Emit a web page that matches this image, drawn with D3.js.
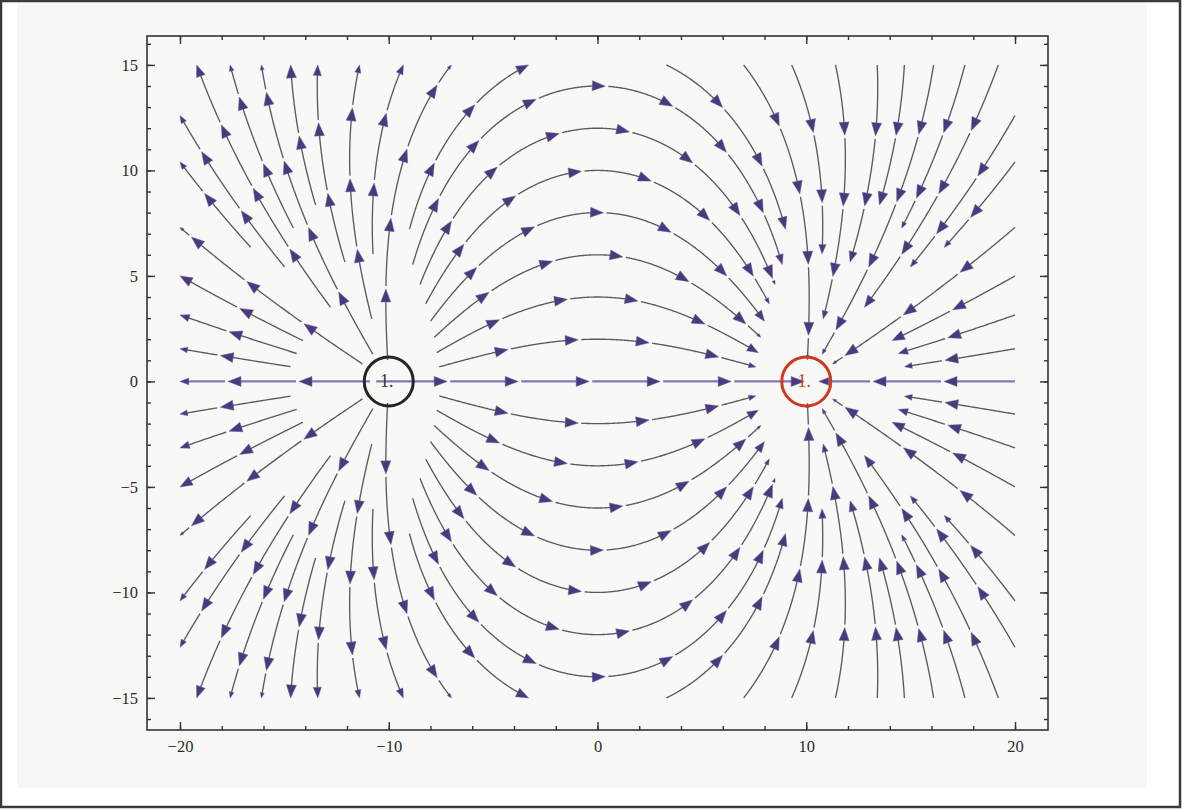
<!DOCTYPE html>
<html><head><meta charset="utf-8">
<script src="https://cdn.jsdelivr.net/npm/d3@7"></script>
<style>body{margin:0;background:#fff}svg{display:block}</style>
</head><body><svg id="c" width="1182" height="810"></svg>
<script>
// ---- data ----
const chargeX = [-10, 10];
const chargeY = [0, 0];
const chargeQ = [1, -1];
const chargeLabel = ["1.", "1."];
const chargeColor = ["#262626", "#cf3a1e"];
const chargeTextColor = ["#333333", "#c0461e"];

const xMajorTicks = [-20, -10, 0, 10, 20];
const xMinorTicks = [-20,-18,-16,-14,-12,-10,-8,-6,-4,-2,0,2,4,6,8,10,12,14,16,18,20];
const yMajorTicks = [-15, -10, -5, 0, 5, 10, 15];
const yMinorTicks = [-16,-15,-14,-13,-12,-11,-10,-9,-8,-7,-6,-5,-4,-3,-2,-1,0,1,2,3,4,5,6,7,8,9,10,11,12,13,14,15,16];

// outer ends of the field lines in the upper-left quadrant (mirrored to the other quadrants)
const arcSeedY  = [2, 4, 6, 8, 10, 12, 14];                                   // lines crossing x = 0
const topSeedX  = [-3.3, -7.0, -9.3, -11.4, -13.4, -14.7, -16.1, -17.6, -19.2]; // lines leaving at y = 15
const leftSeedY = [12.6, 10.4, 7.3, 5.0, 3.15, 1.55];                          // lines leaving at x = -20
const innerSeedX = [-13.5, -14.85];                                            // lines ending inside
const innerSeedY = [8.2, 7.7];
// the line along the axis: [start, end] in flow direction
const axisStart = [-10.6, -10.9, 20];
const axisEnd   = [9.9, -20, 10.6];

// ---- layout ----
const svg = d3.select("#c");
const x = d3.scaleLinear().domain([-21.58, 21.58]).range([147, 1048]);
const y = d3.scaleLinear().domain([-16.52, 16.37]).range([730, 36]);

svg.append("rect").attr("x",1).attr("y",1).attr("width",1179).attr("height",806)
  .attr("fill","#ffffff").attr("stroke","#3a3a3a").attr("stroke-width",2.5);
svg.append("rect").attr("x",17).attr("y",3).attr("width",1130).attr("height",785).attr("fill","#f7f7f5");

// ---- streamline computation ----
const DT = 0.68, H = 0.04, RC = 1.0;
const src = chargeQ.indexOf(1);
function field(px, py) {
  let ex = 0, ey = 0;
  for (let i = 0; i < chargeX.length; i++) {
    const dx = px - chargeX[i], dy = py - chargeY[i];
    const r2 = dx*dx + dy*dy, r3 = r2*Math.sqrt(r2);
    ex += chargeQ[i]*dx/r3; ey += chargeQ[i]*dy/r3;
  }
  return [ex, ey];
}
function dir(px, py, s) { const e = field(px, py); const m = Math.hypot(e[0], e[1]) || 1; return [s*e[0]/m, s*e[1]/m]; }
function rk4(p, h, s) {
  const k1 = dir(p[0], p[1], s);
  const k2 = dir(p[0]+h/2*k1[0], p[1]+h/2*k1[1], s);
  const k3 = dir(p[0]+h/2*k2[0], p[1]+h/2*k2[1], s);
  const k4 = dir(p[0]+h*k3[0], p[1]+h*k3[1], s);
  return [p[0]+h/6*(k1[0]+2*k2[0]+2*k3[0]+k4[0]), p[1]+h/6*(k1[1]+2*k2[1]+2*k3[1]+k4[1])];
}
const grid = new Map();
const gk = (i, j) => i + "," + j;
function addPts(pts) {
  for (const p of pts) {
    const k = gk(Math.floor(p[0]/DT), Math.floor(p[1]/DT));
    if (!grid.has(k)) grid.set(k, []);
    grid.get(k).push(p);
  }
}
function near(p) {
  const i = Math.floor(p[0]/DT), j = Math.floor(p[1]/DT);
  for (let a = -1; a <= 1; a++) for (let b = -1; b <= 1; b++) {
    const c = grid.get(gk(i+a, j+b)); if (!c) continue;
    for (const q of c) if ((q[0]-p[0])**2 + (q[1]-p[1])**2 < DT*DT) return true;
  }
  return false;
}
function trace(seed) {
  if (near(seed)) return null;
  const pts = [seed]; let p = seed;
  for (let n = 0; n < 4000; n++) {
    const q = rk4(p, H, -1);
    if (q[0] > 0.001 || q[0] < -20.001 || q[1] < 0 || q[1] > 15.001) break;
    if (Math.hypot(q[0]-chargeX[src], q[1]-chargeY[src]) < RC) break;
    if (near(q)) break;
    pts.push(q); p = q;
  }
  return pts.length > 3 ? pts : null;
}
// axis obstacle
const axisPts = [];
for (let t = -20; t <= 0; t += H) if (Math.abs(t - chargeX[src]) > RC) axisPts.push([t, 0]);
addPts(axisPts);

const arcs = [], others = [];
arcSeedY.forEach(v => { const l = trace([0, v]); if (l) { arcs.push(l); addPts(l); } });
topSeedX.forEach(v => { const l = trace([v, 15]); if (l) { others.push(l); addPts(l); } });
leftSeedY.forEach(v => { const l = trace([-20, v]); if (l) { others.push(l); addPts(l); } });
innerSeedX.forEach((v, i) => { const l = trace([v, innerSeedY[i]]); if (l) { others.push(l); addPts(l); } });

const mx = l => l.map(p => [-p[0], p[1]]);
const flows = [];
arcs.forEach(l => { const f = l.slice().reverse().concat(mx(l).slice(1)); flows.push(f); });
others.forEach(l => { flows.push(l.slice().reverse()); flows.push(mx(l)); });
const lower = flows.map(f => f.map(p => [p[0], -p[1]]));
const allFlows = flows.concat(lower);
const axisFlows = axisStart.map((s, i) => [[s, 0], [axisEnd[i], 0]]);

// ---- drawing ----
const plot = svg.append("g");
plot.append("rect").attr("x",147).attr("y",36).attr("width",901).attr("height",694).attr("fill","#f8f8f6");
const lineG = plot.append("g"), arrowG = plot.append("g");
const S = 71, GAP = 3, AL = 13, AW = 5;
const lineGen = d3.line();
function drawFlow(f, stroke, sw) {
  const P = f.map(p => [x(p[0]), y(p[1])]);
  const cum = [0];
  for (let i = 1; i < P.length; i++) cum.push(cum[i-1] + Math.hypot(P[i][0]-P[i-1][0], P[i][1]-P[i-1][1]));
  const T = cum[cum.length-1];
  if (T < 2) return;
  const at = s => {
    let i = d3.bisectLeft(cum, s); if (i <= 0) return P[0]; if (i >= P.length) return P[P.length-1];
    const t = (s - cum[i-1]) / ((cum[i]-cum[i-1]) || 1);
    return [P[i-1][0] + t*(P[i][0]-P[i-1][0]), P[i-1][1] + t*(P[i][1]-P[i-1][1])];
  };
  const b = [0];
  for (let s = S; s < T - 6; s += S) b.push(s);
  b.push(T);
  for (let k = 0; k < b.length-1; k++) {
    const s0 = b[k] + (k > 0 ? GAP : 0), s1 = b[k+1];
    const sc = Math.max(0.3, Math.min(1, (s1 - b[k]) / S));
    const pts = [at(s0)];
    for (let i = 0; i < P.length; i++) if (cum[i] > s0 && cum[i] < s1 - AL*sc*0.5) pts.push(P[i]);
    pts.push(at(s1 - AL*sc*0.5));
    lineG.append("path").attr("d", lineGen(pts)).attr("fill","none").attr("stroke",stroke).attr("stroke-width",sw);
    const tip = at(s1), back = at(Math.max(0, s1 - 3));
    let dx = tip[0]-back[0], dy = tip[1]-back[1]; const m = Math.hypot(dx, dy) || 1; dx/=m; dy/=m;
    const l = AL*sc, w = AW*sc;
    const bx = tip[0]-dx*l, by = tip[1]-dy*l;
    arrowG.append("path")
      .attr("d", `M${tip[0]},${tip[1]}L${bx - dy*w},${by + dx*w}L${bx + dy*w},${by - dx*w}Z`)
      .attr("fill","#4a397b").attr("stroke","#6c5ca6").attr("stroke-width",0.5);
  }
}
allFlows.forEach(f => drawFlow(f, "#5e5862", 1.35));
axisFlows.forEach(f => drawFlow(f, "#8377b6", 2.2));

// charges
chargeX.forEach((cx, i) => {
  svg.append("circle").attr("cx", x(cx)).attr("cy", y(chargeY[i])).attr("r", 24.5)
    .attr("fill","none").attr("stroke", chargeColor[i]).attr("stroke-width", 3);
  svg.append("text").attr("x", x(cx)-2).attr("y", y(chargeY[i])+6).attr("text-anchor","middle")
    .attr("font-family","Liberation Serif, serif").attr("font-size",18).attr("fill", chargeTextColor[i]).text(chargeLabel[i]);
});

// frame & axes
svg.append("rect").attr("x",147).attr("y",36).attr("width",901).attr("height",694)
  .attr("fill","none").attr("stroke","#333").attr("stroke-width",1.6);
function styleAxis(g) {
  g.select(".domain").remove();
  g.selectAll("line").attr("stroke","#333").attr("stroke-width",1.4);
  g.selectAll("text").attr("font-family","Liberation Serif, serif").attr("font-size",16.5).attr("fill","#2a2a2a");
}
svg.append("g").attr("transform","translate(0,730)").call(d3.axisBottom(x).tickValues(xMinorTicks).tickFormat("").tickSizeInner(-4).tickSizeOuter(0)).call(styleAxis);
svg.append("g").attr("transform","translate(0,730)").call(d3.axisBottom(x).tickValues(xMajorTicks).tickSizeInner(-8).tickSizeOuter(0).tickPadding(10)).call(styleAxis);
svg.append("g").attr("transform","translate(0,36)").call(d3.axisTop(x).tickValues(xMinorTicks).tickFormat("").tickSizeInner(-4).tickSizeOuter(0)).call(styleAxis);
svg.append("g").attr("transform","translate(0,36)").call(d3.axisTop(x).tickValues(xMajorTicks).tickFormat("").tickSizeInner(-8).tickSizeOuter(0)).call(styleAxis);
svg.append("g").attr("transform","translate(147,0)").call(d3.axisLeft(y).tickValues(yMinorTicks).tickFormat("").tickSizeInner(-4).tickSizeOuter(0)).call(styleAxis);
svg.append("g").attr("transform","translate(147,0)").call(d3.axisLeft(y).tickValues(yMajorTicks).tickSizeInner(-8).tickSizeOuter(0).tickPadding(9)).call(styleAxis);
svg.append("g").attr("transform","translate(1048,0)").call(d3.axisRight(y).tickValues(yMinorTicks).tickFormat("").tickSizeInner(-4).tickSizeOuter(0)).call(styleAxis);
svg.append("g").attr("transform","translate(1048,0)").call(d3.axisRight(y).tickValues(yMajorTicks).tickFormat("").tickSizeInner(-8).tickSizeOuter(0)).call(styleAxis);
</script>
</body></html>
